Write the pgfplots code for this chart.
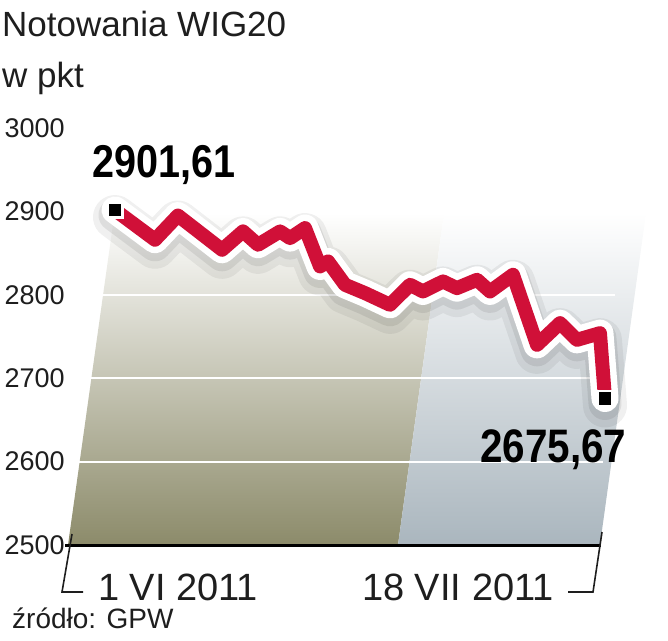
\documentclass[border=0pt]{standalone}
\usepackage{fontspec}
\setmainfont{Liberation Sans}
\newfontfamily\condfont[FakeStretch=0.86]{Liberation Sans}
\usepackage{pgfplots}
\usepackage{pgfplotstable}
\pgfplotsset{compat=1.18}
\definecolor{wred}{RGB}{208,16,56}
\definecolor{oliveB}{RGB}{140,139,106}
\definecolor{blueB}{RGB}{170,182,190}
\definecolor{txt}{RGB}{30,30,30}

\pgfplotstableread{
x y
0 2901.61
2.61 2866
4.11 2895
6.99 2854
8.36 2876
9.34 2860
10.78 2876
11.43 2868
12.41 2880
13.39 2834
13.91 2840
15.02 2812
16.33 2802
17.96 2788
19.27 2812
20.11 2804
21.42 2816
22.33 2808
23.64 2818
24.49 2804
25.99 2824
27.56 2740
29.06 2766
30.17 2746
31.67 2754
32.00 2675.67
}\wig

\begin{document}
\begin{tikzpicture}
\useasboundingbox (0,0) rectangle (668pt,640pt);
\begin{axis}[
  at={(65pt,95pt)}, anchor=south west,
  width=550pt, height=417pt, scale only axis,
  xmin=-3.265, xmax=32.653, ymin=2500, ymax=3000,
  clip=false,
  axis line style={draw=none},
  xtick=\empty,
  ytick={2500,2600,2700,2800,2900,3000},
  major tick length=0pt,
  yticklabel style={anchor=west, xshift=-64pt, font=\fontsize{27}{27}\selectfont, text=txt},
  /pgf/number format/assume math mode=true,
  /pgf/number format/set thousands separator={},
]
% background shaded areas
\addplot[draw=none, top color=white, bottom color=oliveB, forget plot]
  coordinates {(-3.07,2500) (18.48,2500) (21.49,2898) (-0.03,2898)} -- cycle;
\addplot[draw=none, top color=white, bottom color=blueB, forget plot]
  coordinates {(18.48,2500) (31.67,2500) (34.68,2898) (21.49,2898)} -- cycle;
% white grid lines
\draw[white, line width=2pt] (axis cs:-3.265,2600) -- (axis cs:31.9,2600);
\draw[white, line width=2pt] (axis cs:-3.265,2700) -- (axis cs:32.5,2700);
\draw[white, line width=2pt] (axis cs:-3.265,2800) -- (axis cs:32.653,2800);
% shadow
\addplot[black, opacity=0.06, line width=44pt, line join=round, line cap=round, yshift=-7pt, forget plot] table {\wig};
\addplot[black, opacity=0.08, line width=33pt, line join=round, line cap=round, yshift=-5pt, forget plot] table {\wig};
% halo and line
\addplot[white, line width=27pt, line join=round, line cap=round, forget plot] table {\wig};
\addplot[wred, line width=14pt, line join=round, forget plot] table {\wig};
% end markers
\addplot[only marks, mark=square*, mark size=7.5pt, mark options={fill=black, draw=white, line width=2.5pt}, forget plot]
  coordinates {(0,2901.61) (32,2675.67)};
% base line
\draw[black, line width=3pt] (axis cs:-3.265,2500) -- (axis cs:31.74,2500);
\end{axis}

% brackets
\draw[txt, line width=1.6pt] (72pt,106pt) -- (62pt,48pt) -- (83pt,48pt);
\draw[txt, line width=1.6pt] (602pt,108pt) -- (593pt,48pt) -- (568pt,48pt);

% texts
\node[anchor=base west, inner sep=0, text=txt, font=\fontsize{35}{35}\selectfont] at (2pt,603pt) {Notowania WIG20};
\node[anchor=base west, inner sep=0, text=txt, font=\fontsize{35}{35}\selectfont] at (2pt,552pt) {w pkt};
\node[anchor=base west, inner sep=0, text=black, font=\condfont\bfseries\fontsize{46}{46}\selectfont] at (92pt,462pt) {2901,61};
\node[anchor=base west, inner sep=0, text=black, font=\condfont\bfseries\fontsize{47}{47}\selectfont] at (480pt,178pt) {2675,67};
\node[anchor=base west, inner sep=0, text=txt, font=\fontsize{38}{38}\selectfont] at (98pt,40pt) {1 VI 2011};
\node[anchor=base west, inner sep=0, text=txt, font=\fontsize{38}{38}\selectfont] at (362pt,40pt) {18 VII 2011};
\node[anchor=base west, inner sep=0, text=txt, font=\fontsize{28}{28}\selectfont] at (12pt,12pt) {źródło: GPW};
\end{tikzpicture}
\end{document}
